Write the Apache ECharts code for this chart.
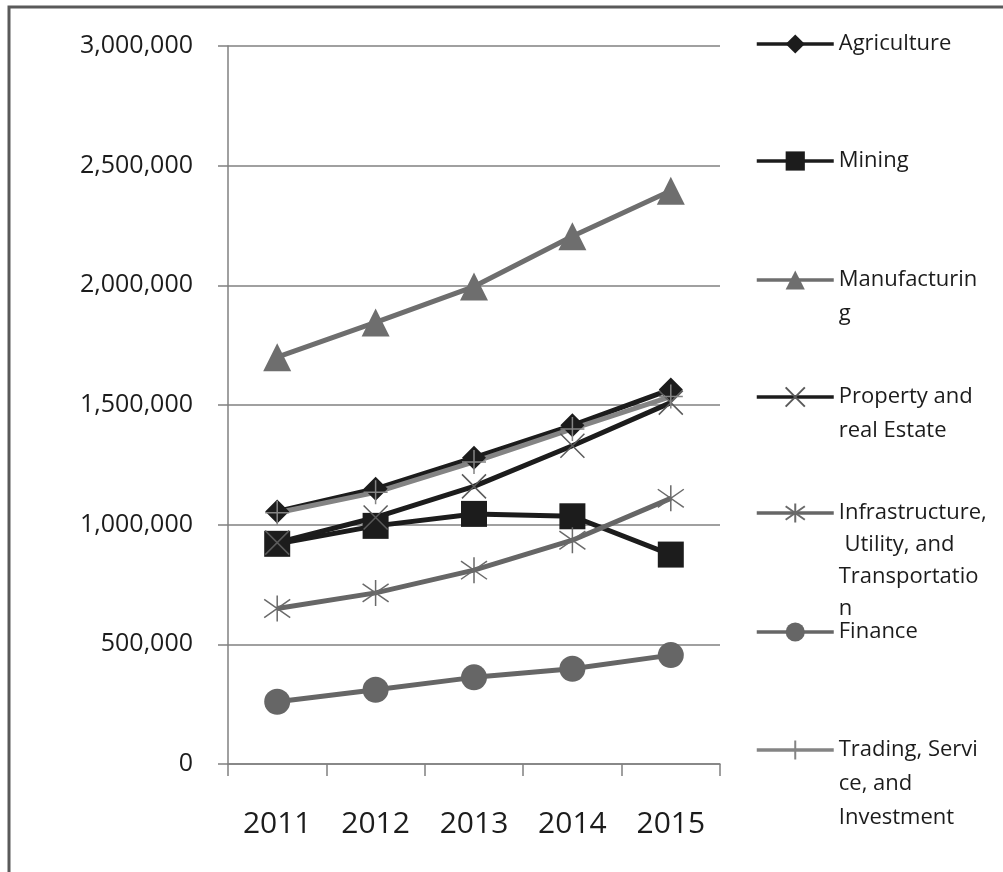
<!DOCTYPE html>
<html>
<head>
<meta charset="utf-8">
<script src="https://cdn.jsdelivr.net/npm/echarts@6/dist/echarts.min.js"></script>
<style>
  html, body { margin: 0; padding: 0; background: #fff; }
  #chart { width: 1003px; height: 872px; }
</style>
</head>
<body>
<div id="chart"></div>
<script>
// ==================================================
// data
var years = ['2011', '2012', '2013', '2014', '2015'];

var agriculture    = [1055000, 1150000, 1280000, 1415000, 1565000];
var mining         = [ 920000,  995000, 1045000, 1035000,  875000];
var manufacturing  = [1700000, 1845000, 1995000, 2205000, 2395000];
var property       = [ 925000, 1030000, 1160000, 1330000, 1510000];
var infrastructure = [ 650000,  715000,  810000,  935000, 1110000];
var finance        = [ 260000,  310000,  362000,  398000,  455000];
var trading        = [1050000, 1135000, 1262000, 1400000, 1535000];

var yTicks = [0, 500000, 1000000, 1500000, 2000000, 2500000, 3000000];

// legend text, wrapped like the original
var legendText = {
  'Agriculture': 'Agriculture',
  'Mining': 'Mining',
  'Manufacturing': 'Manufacturin\ng',
  'Property and real Estate': 'Property and\nreal Estate',
  'Infrastructure, Utility, and Transportation': 'Infrastructure,\n Utility, and\nTransportatio\nn',
  'Finance': 'Finance',
  'Trading, Service, and Investment': 'Trading, Servi\nce, and\nInvestment'
};

// ==================================================
// styles
var FONT = '"Open Sans", sans-serif';
var BLACK = '#1c1c1c';
var LINE_H = 34;
var legendY = [44, 161, 280, 397, 513, 632, 750];

var SYM_X = 'path://M0,0L20,20M0,20L20,0';
var SYM_AST = 'path://M10,0L10,20M1,3L19,17M1,17L19,3';
var SYM_PLUS = 'path://M0,10L20,10M10,0L10,20';

function mkSeries(name, data, color, symbol, size, stroke) {
  return {
    name: name,
    type: 'line',
    data: data,
    symbol: symbol,
    symbolSize: size,
    showAllSymbol: true,
    lineStyle: { color: color, width: 5 },
    itemStyle: stroke
      ? { color: stroke, borderColor: stroke, borderWidth: 1.5 }
      : { color: color },
    emphasis: { disabled: true },
    animation: false
  };
}

var series = [
  mkSeries('Agriculture', agriculture, BLACK, 'diamond', 24),
  mkSeries('Mining', mining, BLACK, 'rect', 26),
  mkSeries('Manufacturing', manufacturing, '#6e6e6e', 'triangle', 28),
  mkSeries('Property and real Estate', property, BLACK, SYM_X, 24, '#5a5a5a'),
  mkSeries('Infrastructure, Utility, and Transportation', infrastructure, '#666666', SYM_AST, 26, '#6a6a6a'),
  mkSeries('Finance', finance, '#666666', 'circle', 26),
  mkSeries('Trading, Service, and Investment', trading, '#848484', SYM_PLUS, 24, '#848484')
];

// one legend per item; blank lines in front keep the marker on the first text line
var legends = series.map(function (s, i) {
  var lh = s.name.indexOf('Infrastructure') === 0 ? 32 : LINE_H;
  var n = legendText[s.name].split('\n').length;
  var h = (2 * n - 1) * lh;
  var pad = new Array(n).join(' \n');
  return {
    data: [s.name],
    left: 755,
    top: legendY[i] - h / 2,
    padding: 0,
    itemWidth: 77,
    itemHeight: 24,
    itemGap: 0,
    selectedMode: false,
    lineStyle: { width: 3.5 },
    formatter: function (nm) { return pad + legendText[nm]; },
    textStyle: {
      fontFamily: FONT,
      fontSize: 22,
      color: BLACK,
      lineHeight: lh
    }
  };
});

var option = {
  backgroundColor: '#fff',
  animation: false,
  graphic: [{
    type: 'rect',
    shape: { x: 9, y: 7, width: 1100, height: 1000 },
    style: { fill: 'none', stroke: '#5a5a5a', lineWidth: 3 },
    silent: true
  }],
  legend: legends,
  grid: { left: 228, top: 46, right: 283, bottom: 108 },
  xAxis: {
    type: 'category',
    data: years,
    boundaryGap: true,
    axisLine: { lineStyle: { color: '#808080', width: 1.5 } },
    axisTick: { show: true, length: 12, alignWithLabel: false, lineStyle: { color: '#808080', width: 1.5 } },
    axisLabel: { margin: 45, fontFamily: FONT, fontSize: 30, color: BLACK },
    splitLine: { show: false }
  },
  yAxis: {
    type: 'value',
    min: yTicks[0],
    max: yTicks[yTicks.length - 1],
    interval: yTicks[1] - yTicks[0],
    axisLine: { show: true, lineStyle: { color: '#808080', width: 1.5 } },
    axisTick: { show: true, length: 10, lineStyle: { color: '#808080', width: 1.5 } },
    axisLabel: {
      margin: 35,
      fontFamily: FONT,
      fontSize: 25,
      color: BLACK,
      formatter: function (v) { return v.toLocaleString('en-US'); }
    },
    splitLine: { show: true, lineStyle: { color: '#808080', width: 1.5 } }
  },
  series: series
};

var chart = echarts.init(document.getElementById('chart'), null, { renderer: 'canvas' });
chart.setOption(option);

window.addEventListener('resize', function () {
  chart.resize();
});
</script>
</body>
</html>
